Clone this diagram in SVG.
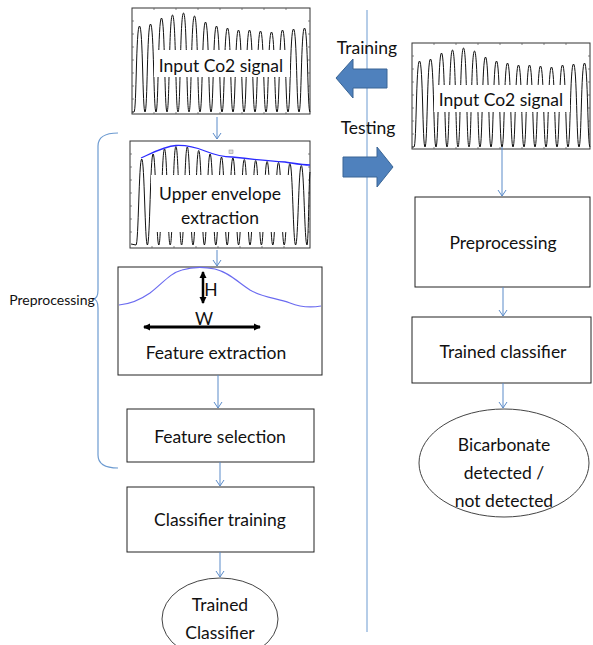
<svg xmlns="http://www.w3.org/2000/svg" width="593" height="645" viewBox="0 0 593 645">
<style>
.t{font-family:Lato,"Open Sans","Liberation Sans",sans-serif;font-size:17.5px;fill:#111;text-anchor:middle;dominant-baseline:central}
.box{fill:#fff;stroke:#222;stroke-width:1}
.frame{fill:#fff;stroke:#333;stroke-width:1}
.wave{fill:none;stroke:#111;stroke-width:1}
.tick{stroke:#555;stroke-width:0.7}
.conn{fill:none;stroke:#5b8bc9;stroke-width:1;marker-end:url(#ah)}
.big{fill:#4f81bd;stroke:#3a6595;stroke-width:1}
</style>
<defs>
<marker id="ah" markerWidth="10" markerHeight="10" refX="9" refY="5" orient="auto" markerUnits="userSpaceOnUse">
<path d="M3,1 L9,5 L3,9" fill="none" stroke="#5b8bc9" stroke-width="1"/>
</marker>
<marker id="bh" markerWidth="8" markerHeight="8" refX="6" refY="4" orient="auto-start-reverse" markerUnits="userSpaceOnUse">
<path d="M0,0.5 L7,4 L0,7.5 Z" fill="#000"/>
</marker>
<g id="rawplot">
<rect class="frame" x="0" y="0" width="178" height="106"/>
<path class="tick" d="M0,13h2M0,26h2M0,39h2M0,52h2M0,65h2M0,78h2M0,91h2M178,13h-2M178,26h-2M178,39h-2M178,52h-2M178,65h-2M178,78h-2M178,91h-2M22,106v-2M44,106v-2M66,106v-2M88,106v-2M110,106v-2M132,106v-2M154,106v-2M22,0v2M44,0v2M66,0v2M88,0v2M110,0v2M132,0v2M154,0v2"/>
<path class="wave" d="M0,104 L2,104 C4.5,104 4,18 7.5,18 C11,18 10.5,104 13,104 C15.5,104 15,16 18.5,16 C22,16 21.5,104 24,104 C26.5,104 26,10 29.5,10 C33,10 32.5,104 35,104 C37.5,104 37,7 40.5,7 C44,7 43.5,104 46,104 C48.5,104 48,5 51.5,5 C55,5 54.5,104 57,104 C59.5,104 59,8 62.5,8 C66,8 65.5,104 68,104 C70.5,104 70,14 73.5,14 C77,14 76.5,104 79,104 C81.5,104 81,18 84.5,18 C88,18 87.5,104 90,104 C92.5,104 92,20 95.5,20 C99,20 98.5,104 101,104 C103.5,104 103,22 106.5,22 C110,22 109.5,104 112,104 C114.5,104 114,22 117.5,22 C121,22 120.5,104 123,104 C125.5,104 125,23 128.5,23 C132,23 131.5,104 134,104 C136.5,104 136,24 139.5,24 C143,24 142.5,104 145,104 C147.5,104 147,22 150.5,22 C154,22 153.5,104 156,104 C158.5,104 158,21 161.5,21 C165,21 164.5,104 167,104 C169.5,104 169,20 172.5,20 C176,20 175.5,104 178,104"/>
<rect x="22" y="42" width="136" height="27" fill="#fff"/>
</g>
</defs>
<rect width="593" height="645" fill="#fff"/>

<line x1="367" y1="10" x2="367" y2="632" stroke="#6d9bd1" stroke-width="1"/>

<g id="training-label">
<polygon class="big" points="336,78 353,59 353,69 387,69 387,88 353,88 353,98"/>
<text class="t" x="367" y="47">Training</text>
</g>
<g id="testing-label">
<polygon class="big" points="343,157 377,157 377,147 393,167 377,187 377,177 343,177"/>
<text class="t" x="368" y="127">Testing</text>
</g>

<g id="preprocessing-brace">
<path d="M118,133 Q98,133 98,146 L98,290 Q98,299 93,299 Q98,299 98,308 L98,455 Q98,468 118,468" fill="none" stroke="#6d9bd1" stroke-width="1.2"/>
<text class="t" x="52" y="299" style="font-size:14px">Preprocessing</text>
</g>

<g id="input-left">
<use href="#rawplot" x="132" y="8"/>
<text class="t" x="221" y="65">Input Co2 signal</text>
</g>

<g id="upper-envelope">
<rect class="frame" x="130" y="141" width="180" height="107"/>
<path class="tick" d="M130,154h2M130,167h2M130,180h2M130,193h2M130,206h2M130,219h2M130,232h2M310,154h-2M310,167h-2M310,180h-2M310,193h-2M310,206h-2M310,219h-2M310,232h-2M152,248v-2M174,248v-2M196,248v-2M218,248v-2M240,248v-2M262,248v-2M284,248v-2"/>
<path class="wave" d="M131,244 L136,245 C138.5,245 138.9,159 141.7,159 C144.5,159 144.9,245 147.4,245 C149.9,245 150.3,154 153.1,154 C155.9,154 156.3,245 158.8,245 C161.3,245 161.7,149 164.5,149 C167.3,149 167.7,245 170.2,245 C172.7,245 173.1,146.5 175.9,146.5 C178.7,146.5 179.1,245 181.6,245 C184.1,245 184.5,147 187.3,147 C190.1,147 190.5,245 193,245 C195.5,245 195.9,150.5 198.7,150.5 C201.5,150.5 201.9,245 204.4,245 C206.9,245 207.3,154 210.1,154 C212.9,154 213.3,245 215.8,245 C218.3,245 218.7,157 221.5,157 C224.3,157 224.7,245 227.2,245 C229.7,245 230.1,158 232.9,158 C235.7,158 236.1,245 238.6,245 C241.1,245 241.5,159.5 244.3,159.5 C247.1,159.5 247.5,245 250,245 C252.5,245 252.9,160.5 255.7,160.5 C258.5,160.5 258.9,245 261.4,245 C263.9,245 264.3,161.5 267.1,161.5 C269.9,161.5 270.3,245 272.8,245 C275.3,245 275.7,162.5 278.5,162.5 C281.3,162.5 281.7,245 284.2,245 C286.7,245 287.1,163.5 289.9,163.5 C292.7,163.5 293.1,245 295.6,245 C298.1,245 298.5,165.5 301.3,165.5 C304.1,165.5 304.5,245 307,245 C308.5,245 309,175 310,172"/>
<path d="M141,158 C152,153 165,146 176,145.5 C186,145 195,147 205,151 C215,155 222,157 232,157 C250,159 270,161 285,162 C295,163.5 302,165 310,165" fill="none" stroke="#2b2bff" stroke-width="1.3"/>
<rect x="229" y="150" width="4" height="3.5" fill="#ddd" stroke="#888" stroke-width="0.5"/>
<rect x="151" y="175" width="138" height="57" fill="#fff"/>
<text class="t" x="220" y="193">Upper envelope</text>
<text class="t" x="220" y="217">extraction</text>
</g>

<g id="feature-extraction">
<rect class="box" x="118" y="267" width="204" height="108"/>
<path d="M119,305 C130,304 140,300 150,293 C162,284 170,273 182,270 C192,267 205,267 215,269 C228,272 238,282 250,290 C262,297 275,298 290,303 C300,307 310,308 321,306" fill="none" stroke="#6b6bf0" stroke-width="1.2"/>
<line x1="203" y1="272" x2="203" y2="303" stroke="#000" stroke-width="2.5" marker-start="url(#bh)" marker-end="url(#bh)"/>
<text class="t" x="211" y="289">H</text>
<text class="t" x="204" y="318">W</text>
<line x1="144" y1="327" x2="260" y2="327" stroke="#000" stroke-width="3" marker-start="url(#bh)" marker-end="url(#bh)"/>
<text class="t" x="216" y="352">Feature extraction</text>
</g>

<g id="feature-selection">
<rect class="box" x="127" y="409" width="187" height="53"/>
<text class="t" x="220" y="436">Feature selection</text>
</g>

<g id="classifier-training">
<rect class="box" x="127" y="487" width="187" height="65"/>
<text class="t" x="220" y="519">Classifier training</text>
</g>

<g id="trained-classifier-left">
<ellipse cx="220" cy="619" rx="58" ry="41" fill="#fff" stroke="#444" stroke-width="1"/>
<text class="t" x="220" y="604">Trained</text>
<text class="t" x="220" y="632">Classifier</text>
</g>

<g id="input-right">
<use href="#rawplot" x="412" y="43"/>
<text class="t" x="501" y="99">Input Co2 signal</text>
</g>

<g id="preprocessing-right">
<rect class="box" x="415" y="197" width="175" height="90"/>
<text class="t" x="503" y="242">Preprocessing</text>
</g>

<g id="trained-classifier-right">
<rect class="box" x="412" y="317" width="179" height="66"/>
<text class="t" x="503" y="351">Trained classifier</text>
</g>

<g id="result">
<ellipse cx="504" cy="463" rx="85" ry="54" fill="#fff" stroke="#444" stroke-width="1"/>
<text class="t" x="504" y="444">Bicarbonate</text>
<text class="t" x="504" y="472">detected /</text>
<text class="t" x="504" y="500">not detected</text>
</g>

<g id="connectors">
<line class="conn" x1="217" y1="117" x2="217" y2="139"/>
<line class="conn" x1="217" y1="250" x2="217" y2="266"/>
<line class="conn" x1="218" y1="375" x2="218" y2="408"/>
<line class="conn" x1="220" y1="462" x2="220" y2="486"/>
<line class="conn" x1="220" y1="552" x2="220" y2="577"/>
<line class="conn" x1="502" y1="147" x2="502" y2="196"/>
<line class="conn" x1="503" y1="287" x2="503" y2="316"/>
<line class="conn" x1="503" y1="383" x2="503" y2="408"/>
</g>
</svg>
